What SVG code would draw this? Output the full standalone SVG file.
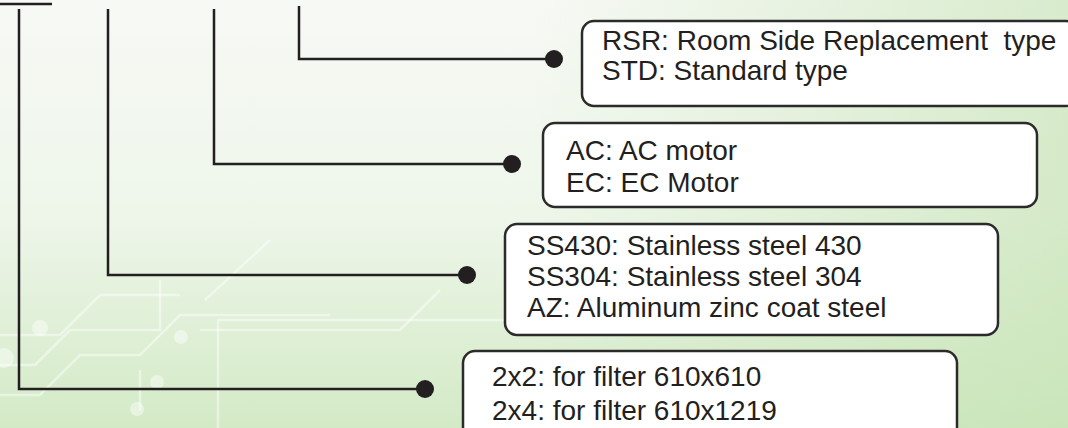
<svg xmlns="http://www.w3.org/2000/svg" width="1068" height="428" viewBox="0 0 1068 428">
<defs>
<linearGradient id="bgv" x1="0" y1="0" x2="0" y2="1">
<stop offset="0" stop-color="#f7f9f5"/>
<stop offset="0.5" stop-color="#eef6ea"/>
<stop offset="1" stop-color="#d3eac6"/>
</linearGradient>
<linearGradient id="bgh" x1="0" y1="0" x2="1" y2="0">
<stop offset="0" stop-color="#c4e2b2" stop-opacity="0"/>
<stop offset="0.5" stop-color="#c4e2b2" stop-opacity="0"/>
<stop offset="1" stop-color="#c4e2b2" stop-opacity="0.6"/>
</linearGradient>
</defs>
<style>
.ln{fill:none;stroke:#231f20;stroke-width:2.5}
.dot{fill:#231f20}
.box{fill:#ffffff;stroke:#2b2b2b;stroke-width:2.5}
.t{font-family:"Liberation Sans",Arial,Helvetica,sans-serif;font-size:28px;fill:#231f20;white-space:pre}
.tr{fill:none;stroke:#ffffff;stroke-opacity:0.45;stroke-width:2.5}
.tc{fill:#ffffff;fill-opacity:0.45}
</style>
<rect width="1068" height="428" fill="url(#bgv)"/>
<rect width="1068" height="428" fill="url(#bgh)"/>
<g id="background-traces">
<path class="tr" d="M0,335 H60 L100,295 H180"/>
<path class="tr" d="M0,365 H35 L70,330 H160 V280"/>
<path class="tr" d="M0,395 H40 L80,355 H140 L180,315 H330"/>
<path class="tr" d="M205,300 L270,240"/>
<path class="tr" d="M140,370 V410"/>
<path class="tr" d="M200,330 H400 L440,290"/>
<path class="tr" d="M218,428 V320 H1000"/>
<circle class="tc" cx="40" cy="328" r="8"/>
<circle class="tc" cx="4" cy="358" r="10"/>
<circle class="tc" cx="181" cy="337" r="7"/>
<circle class="tc" cx="157" cy="382" r="7"/>
<circle class="tc" cx="137" cy="409" r="7"/>
</g>
<g id="connectors">
<path class="ln" d="M0,4 H52"/>
<path class="ln" d="M19,9 V389 H425"/>
<path class="ln" d="M108,9 V275 H467"/>
<path class="ln" d="M214,9 V164 H512"/>
<path class="ln" d="M299,6 V59 H554"/>
<circle class="dot" cx="425" cy="389" r="9"/>
<circle class="dot" cx="467" cy="275" r="9"/>
<circle class="dot" cx="512" cy="164" r="9"/>
<circle class="dot" cx="554" cy="59" r="9"/>
</g>
<g id="node-type">
<rect class="box" x="582" y="21" width="496" height="85" rx="12"/>
<text class="t" x="602" y="50" xml:space="preserve">RSR: Room Side Replacement  type</text>
<text class="t" x="602" y="80">STD: Standard type</text>
</g>
<g id="node-motor">
<rect class="box" x="543" y="123" width="494" height="84" rx="12"/>
<text class="t" x="566" y="160">AC: AC motor</text>
<text class="t" x="566" y="192">EC: EC Motor</text>
</g>
<g id="node-material">
<rect class="box" x="505" y="224" width="493" height="111" rx="12"/>
<text class="t" x="527" y="255">SS430: Stainless steel 430</text>
<text class="t" x="527" y="286">SS304: Stainless steel 304</text>
<text class="t" x="527" y="317">AZ: Aluminum zinc coat steel</text>
</g>
<g id="node-size">
<rect class="box" x="463" y="351" width="494" height="100" rx="12"/>
<text class="t" x="492" y="386">2x2: for filter 610x610</text>
<text class="t" x="492" y="420">2x4: for filter 610x1219</text>
</g>
</svg>
